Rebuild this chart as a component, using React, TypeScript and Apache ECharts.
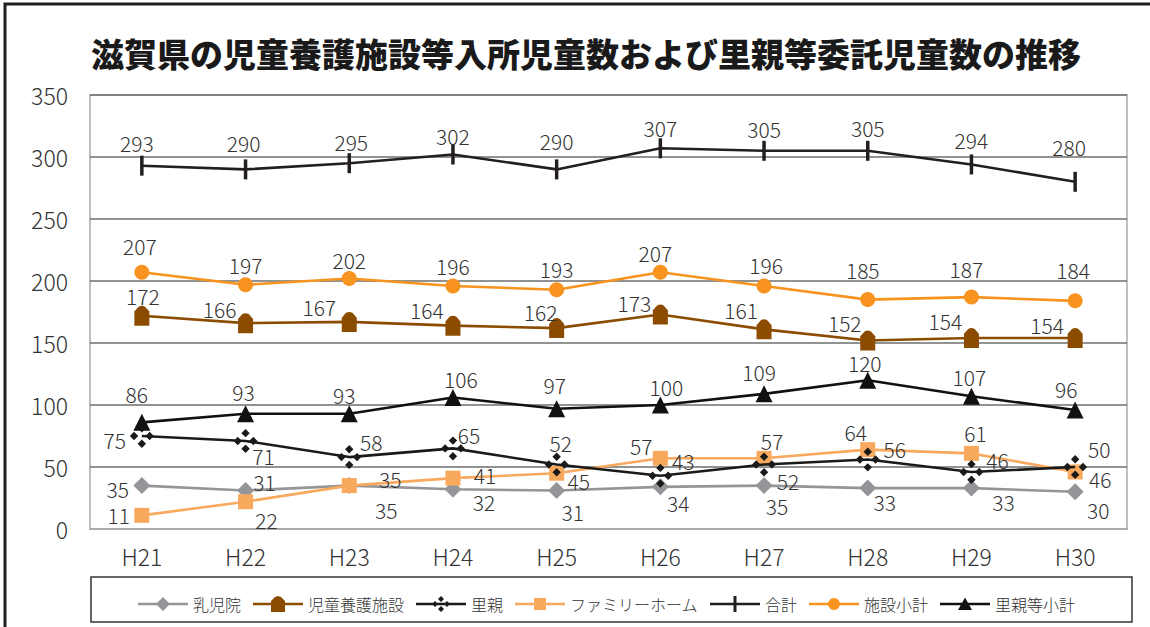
import React, { useEffect, useRef } from "react";
import * as echarts from "echarts";

const categories = ["H21", "H22", "H23", "H24", "H25", "H26", "H27", "H28", "H29", "H30"];
const nyujiin = [35, 31, 35, 32, 31, 34, 35, 33, 33, 30];
const jidouYougo = [172, 166, 167, 164, 162, 173, 161, 152, 154, 154];
const satooya = [75, 71, 58, 65, 52, 43, 52, 56, 46, 50];
const familyHome = [11, 22, 35, 41, 45, 57, 57, 64, 61, 46];
const goukei = [293, 290, 295, 302, 290, 307, 305, 305, 294, 280];
const shisetsuShoukei = [207, 197, 202, 196, 193, 207, 196, 185, 187, 184];
const satooyaShoukei = [86, 93, 93, 106, 97, 100, 109, 120, 107, 96];
const yTicks = [0, 50, 100, 150, 200, 250, 300, 350];

// label layout (offsets of each value label from its point)
const offGoukei = [[-5, -23], [-2, -26], [2, -21], [0, -19], [0, -28], [0, -20], [0, -22], [0, -23], [0, -24], [-6, -35]];
const offShisetsu = [[-2, -26], [0, -20], [0, -19], [0, -20], [0, -21], [-5, -19], [2, -21], [-5, -30], [-5, -28], [-2, -31]];
const offJidou = [[1, -20], [-26, -14], [-30, -15], [-26, -16], [-16, -16], [-26, -11], [-23, -19], [-23, -18], [-26, -17], [-28, -13]];
const offSatoShou = [[-5, -28], [-2, -22], [-5, -19], [8, -19], [-2, -24], [6, -18], [-5, -22], [-3, -17], [-2, -19], [-9, -21]];
const offSatooya = [[-27, 4], [18, 15], [22, -15], [16, -13], [4, -22], [23, -15], [24, 16], [27, -11], [26, -12], [24, -18]];
const offFH = [[-23, 0], [21, 18], [41, -7], [32, -3], [22, 8], [-19, -12], [8, -17], [-12, -18], [4, -20], [25, 7]];
const offNyuji = [[-24, 3], [19, -9], [37, 24], [31, 13], [16, 21], [18, 16], [13, 20], [17, 14], [32, 14], [23, 18]];

const FONT = "'Noto Sans CJK JP', 'Noto Sans', sans-serif";
const TXT = "#333333";

const houseSymbol = "path://M0,20 L0,6 L4,1.2 Q7,-0.6 10,1.2 L14,6 L14,20 Z";
const fourDiamonds =
  "path://M10,0 L13.5,3.5 L10,7 L6.5,3.5 Z M3.5,6.5 L7,10 L3.5,13.5 L0,10 Z M16.5,6.5 L20,10 L16.5,13.5 L13,10 Z M10,13 L13.5,16.5 L10,20 L6.5,16.5 Z";
const barSymbol = "path://M0,0 L1,0 L1,10 L0,10 Z";

// legend icons: line + marker in a 50x16 box
const LINE = "M0,6.8 L50,6.8 L50,9.2 L0,9.2 Z ";
const iconNyuji = "path://" + LINE + "M25,1 L32,8 L25,15 L18,8 Z M0,0 L0.01,0 L0.01,16 L0,16 Z";
const iconJidou = "path://" + LINE + "M18,16 L18,5 L22,1 L25,0 L28,1 L32,5 L32,16 Z";
const iconSato = "path://" + LINE + "M25,0 L28,3 L25,6 L22,3 Z M19,5 L22,8 L19,11 L16,8 Z M31,5 L34,8 L31,11 L28,8 Z M25,10 L28,13 L25,16 L22,13 Z";
const iconFH = "path://" + LINE + "M19,2 L31,2 L31,14 L19,14 Z M0,0 L0.01,0 L0.01,16 L0,16 Z";
const iconGoukei = "path://" + LINE + "M23.5,0 L26.5,0 L26.5,16 L23.5,16 Z";
const iconShisetsu = "path://" + LINE + "M19,8 A6,6 0 1 1 31,8 A6,6 0 1 1 19,8 Z M0,0 L0.01,0 L0.01,16 L0,16 Z";
const iconSatoShou = "path://" + LINE + "M25,1.5 L32,14 L18,14 Z M0,0 L0.01,0 L0.01,16 L0,16 Z";

function mk(values: number[], offs: number[][]) {
  return values.map((v, i) => ({ value: v, label: { offset: offs[i] } }));
}

function lineSeries(name: string, values: number[], offs: number[][], color: string, symbol: string, symbolSize: any, z: number) {
  return {
    name,
    type: "line",
    data: mk(values, offs),
    symbol,
    symbolSize,
    z,
    lineStyle: { color, width: 2.6 },
    itemStyle: { color },
    label: {
      show: true,
      position: "inside",
      color: TXT,
      fontSize: 21,
      fontWeight: 300,
      fontFamily: FONT,
    },
  };
}

export default function App() {
  const ref = useRef<HTMLDivElement>(null);
  useEffect(() => {
    if (!ref.current) return;
    const chart = echarts.init(ref.current, undefined, { renderer: "svg" });
    const option: any = {
      animation: false,
      backgroundColor: "#ffffff",
      title: {
        text: "滋賀県の児童養護施設等入所児童数および里親等委託児童数の推移",
        left: 86,
        top: 31,
        textStyle: { fontSize: 33, fontWeight: 900, color: "#1a1a1a", fontFamily: FONT },
      },
      graphic: [
        {
          type: "polyline",
          shape: { points: [[5, 700], [5, 4], [1150, 4]] },
          style: { stroke: "#231f20", lineWidth: 3, fill: null },
          silent: true,
        },
        {
          type: "rect",
          shape: { x: 91, y: 577, width: 1041, height: 45 },
          style: { stroke: "#333", lineWidth: 1.5, fill: null },
          silent: true,
        },
      ],
      legend: {
        left: 133,
        top: 591,
        itemWidth: 50,
        itemHeight: 16,
        itemGap: 12,
        textStyle: { fontSize: 16, fontWeight: 300, color: TXT, fontFamily: FONT },
        data: [
          { name: "乳児院", icon: iconNyuji },
          { name: "児童養護施設", icon: iconJidou },
          { name: "里親", icon: iconSato },
          { name: "ファミリーホーム", icon: iconFH },
          { name: "合計", icon: iconGoukei },
          { name: "施設小計", icon: iconShisetsu },
          { name: "里親等小計", icon: iconSatoShou },
        ],
      },
      grid: {
        left: 90,
        right: 23,
        top: 95,
        bottom: 98,
        show: true,
        borderColor: "#aaaaaa",
        borderWidth: 1.5,
      },
      xAxis: {
        type: "category",
        data: categories,
        boundaryGap: true,
        axisLine: { show: true, lineStyle: { color: "#aaaaaa", width: 2 } },
        axisTick: { show: false },
        axisLabel: { fontSize: 23, fontWeight: 300, color: TXT, fontFamily: FONT, margin: 15 },
      },
      yAxis: {
        type: "value",
        min: yTicks[0],
        max: yTicks[yTicks.length - 1],
        interval: 50,
        axisLine: { show: false },
        axisTick: { show: false },
        axisLabel: { fontSize: 23, fontWeight: 300, color: TXT, fontFamily: FONT, margin: 22 },
        splitLine: { lineStyle: { color: "#6e6e6e", width: 1.5 } },
      },
      series: [
        lineSeries("乳児院", nyujiin, offNyuji, "#939598", "diamond", 17, 2),
        lineSeries("ファミリーホーム", familyHome, offFH, "#f8a95e", "rect", 15, 3),
        lineSeries("児童養護施設", jidouYougo, offJidou, "#8b4c00", houseSymbol, [15, 20], 4),
        lineSeries("施設小計", shisetsuShoukei, offShisetsu, "#f7931e", "circle", 15, 5),
        lineSeries("里親", satooya, offSatooya, "#1a1a1a", fourDiamonds, 24, 6),
        lineSeries("里親等小計", satooyaShoukei, offSatoShou, "#111111", "triangle", 17, 7),
        lineSeries("合計", goukei, offGoukei, "#231f20", barSymbol, [3.5, 20], 8),
      ],
    };
    chart.setOption(option);
    return () => chart.dispose();
  }, []);
  return <div ref={ref} style={{ position: "fixed", left: 0, top: 0, width: 1150, height: 627 }} />;
}
